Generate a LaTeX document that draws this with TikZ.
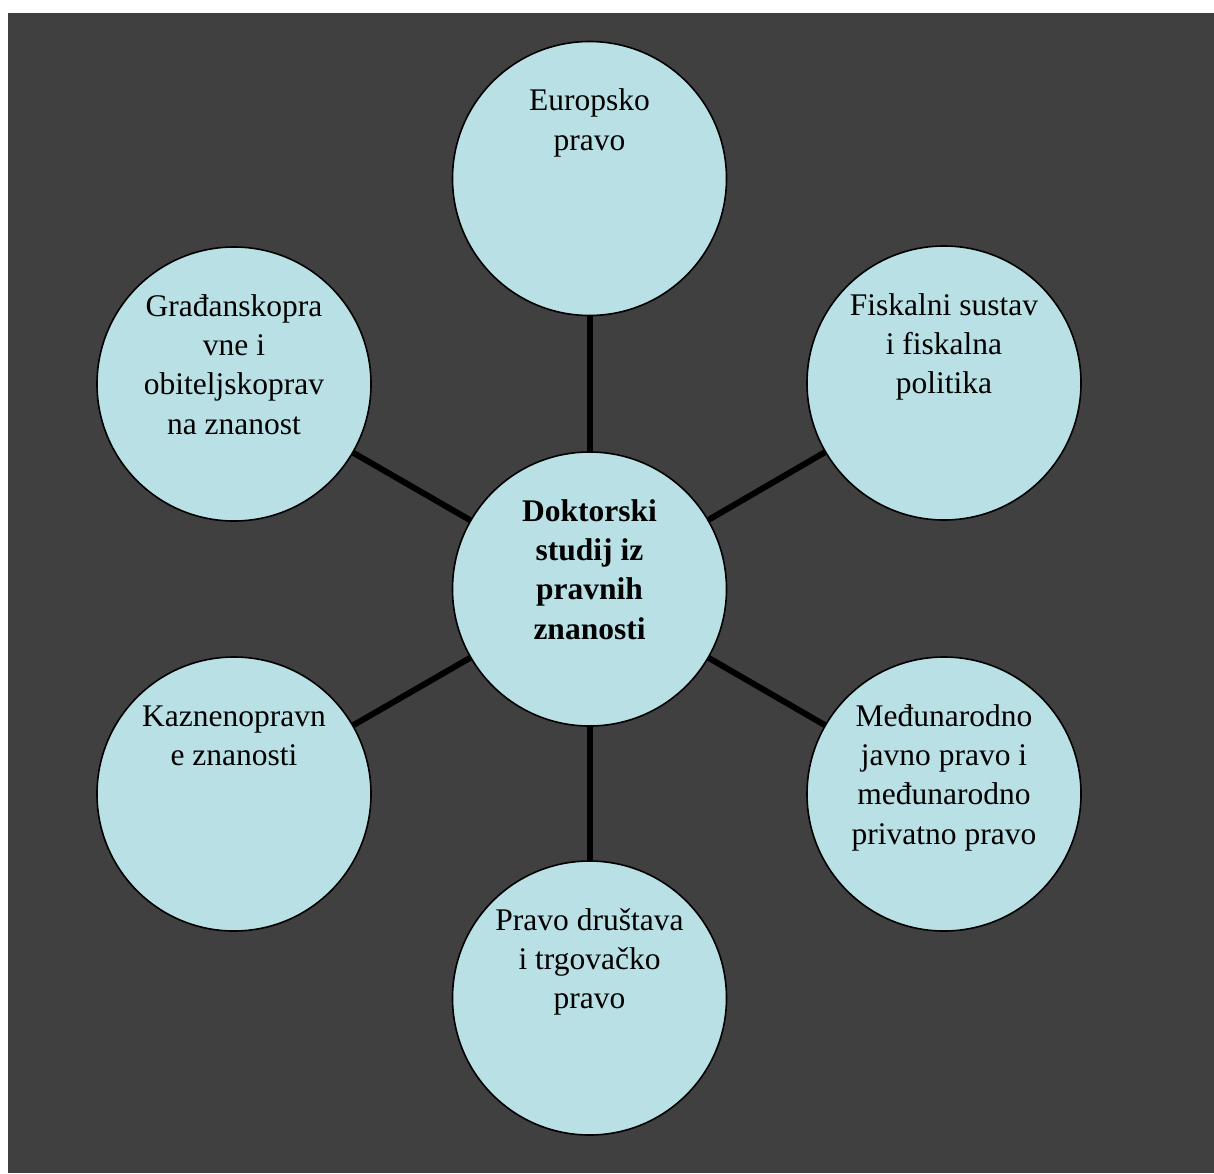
\documentclass[tikz,border=0pt]{standalone}
\usepackage{fontspec}
\setmainfont{Liberation Serif}
\definecolor{bgdark}{RGB}{64,64,64}
\definecolor{circfill}{RGB}{185,224,228}
\begin{document}
\begin{tikzpicture}[x=1pt,y=1pt,
  bub/.style={circle, draw=black, line width=1.6pt, fill=circfill, minimum size=274pt, inner sep=0pt},
  lbl/.style={anchor=north, inner sep=0pt, align=center, font=\fontsize{31.5}{39.3}\selectfont, text=black},
  link/.style={line width=6pt, draw=black}]
\useasboundingbox (0,0) rectangle (1214,-1173);
\fill[white] (0,0) rectangle (1214,-1173);
\fill[bgdark] (8,-13) rectangle (1214,-1173);
\node[bub] (c)  at (589.5,-589)   {};
\node[bub] (t)  at (589.5,-178.5) {};
\node[bub] (rt) at (944,-383)     {};
\node[bub] (rb) at (944,-794)     {};
\node[bub] (b)  at (589.5,-998)   {};
\node[bub] (lb) at (234,-794)     {};
\node[bub] (lt) at (234,-384)     {};
\foreach \n in {t,rt,rb,b,lb,lt} \draw[link] (c) -- (\n);
\node[lbl, font=\fontsize{31.5}{39.3}\selectfont\bfseries] (ct) at ([yshift=95.5pt]c.center) {\strut Doktorski\\studij iz\\pravnih\\znanosti};
\node[lbl] (tt)  at ([yshift=95.5pt]t.center)  {\strut Europsko\\pravo};
\node[lbl] (rtt) at ([yshift=95.5pt]rt.center) {\strut Fiskalni sustav\\i fiskalna\\politika};
\node[lbl] (rbt) at ([yshift=95.5pt]rb.center) {\strut Međunarodno\\javno pravo i\\međunarodno\\privatno pravo};
\node[lbl] (bt)  at ([yshift=95.5pt]b.center)  {\strut Pravo društava\\i trgovačko\\pravo};
\node[lbl] (lbt) at ([yshift=95.5pt]lb.center) {\strut Kaznenopravn\\e znanosti};
\node[lbl] (ltt) at ([yshift=95.5pt]lt.center) {\strut Građanskopra\\vne i\\obiteljskoprav\\na znanost};
\end{tikzpicture}
\end{document}
